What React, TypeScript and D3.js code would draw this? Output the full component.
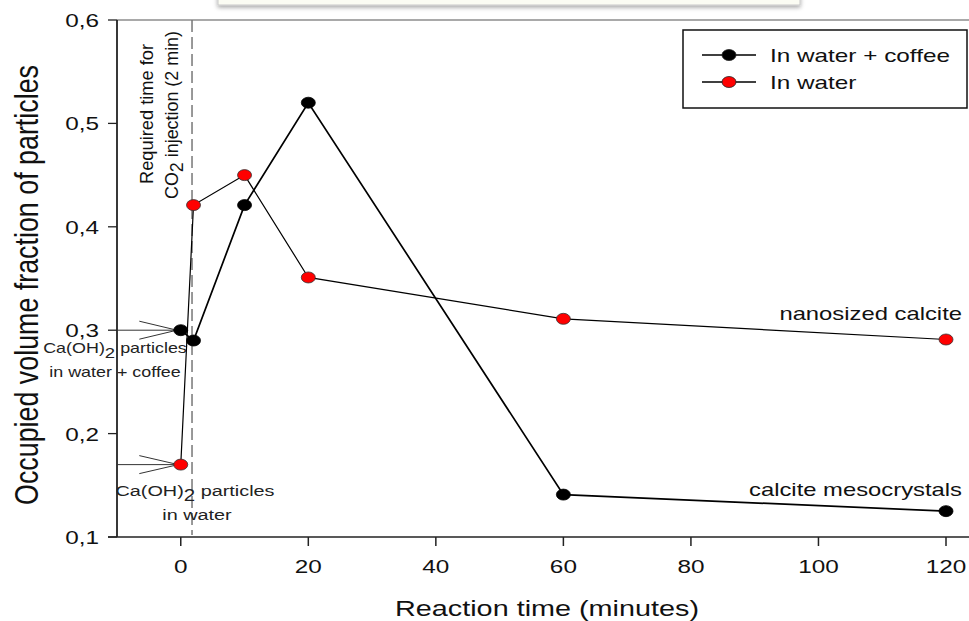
import React from 'react';
import * as d3 from 'd3';

// ---- data ----
const times = [0, 2, 10, 20, 60, 120];
const coffeeValues = [0.300, 0.290, 0.421, 0.520, 0.141, 0.125];
const waterValues = [0.170, 0.421, 0.450, 0.351, 0.311, 0.291];
const seriesNames = ['In water + coffee', 'In water'];
const seriesColors = ['#000000', '#ff0000'];
const xTicks = [0, 20, 40, 60, 80, 100, 120];
const yTicks = [0.1, 0.2, 0.3, 0.4, 0.5, 0.6];
const injectionTime = 2;
const xTitle = 'Reaction time (minutes)';
const yTitle = 'Occupied volume fraction of particles';

const W = 969;
const H = 621;
const SX = 1.28;
const FONT = 'Arial, "Liberation Sans", Helvetica, sans-serif';

function SText(props: any) {
  const { x, y, anchor = 'start', size, fill = '#111', children } = props;
  return (
    <text
      transform={`translate(${x},${y}) scale(${SX},1)`}
      textAnchor={anchor}
      fontSize={size}
      fill={fill}
      fontFamily={FONT}
    >
      {children}
    </text>
  );
}

export default function App() {
  const x = d3.scaleLinear().domain([-10, 120]).range([117, 946]);
  const y = d3.scaleLinear().domain([0.1, 0.6]).range([537, 20]);
  const line = d3
    .line<[number, number]>()
    .x((d) => x(d[0]))
    .y((d) => y(d[1]));

  const series = [coffeeValues, waterValues].map((vals) =>
    times.map((t, i) => [t, vals[i]] as [number, number])
  );

  const x0 = x.range()[0];
  const yBottom = y(0.1);
  const yTop = y(0.6);
  const frameRight = W + 10;

  const fmt = (v: number) => d3.format('.1f')(v).replace('.', ',');

  const arrow = (val: number, tipT: number) => {
    const yy = y(val);
    const tip = x(tipT);
    const back = x(-6.5);
    return (
      <g stroke="#333" strokeWidth={1} fill="none">
        <line x1={x0} x2={tip} y1={yy} y2={yy} />
        <line x1={back} y1={yy - 9} x2={tip} y2={yy} />
        <line x1={back} y1={yy + 9} x2={tip} y2={yy} />
      </g>
    );
  };

  return (
    <div style={{ position: 'fixed', left: 0, top: 0, width: W, height: H, background: '#fff' }}>
      <svg width={W} height={H} style={{ display: 'block' }}>
        <defs>
          <filter id="sh" x="-10%" y="-50%" width="120%" height="300%">
            <feDropShadow dx="0" dy="2" stdDeviation="2" floodColor="#000" floodOpacity="0.35" />
          </filter>
        </defs>
        <rect width={W} height={H} fill="#fff" />
        {/* top cropped box */}
        <rect x={218} y={-20} width={582} height={25} fill="#fbfcf3" stroke="#c8c8c8" strokeWidth={1} filter="url(#sh)" />

        {/* frame */}
        <line x1={x0} x2={frameRight} y1={yTop} y2={yTop} stroke="#555" strokeWidth={1.2} />
        <line x1={x0 - 9} x2={frameRight} y1={yBottom} y2={yBottom} stroke="#222" strokeWidth={1.5} />
        <line x1={x0} x2={x0} y1={yTop} y2={yBottom} stroke="#222" strokeWidth={1.8} />

        {/* y ticks */}
        {yTicks.map((t) => (
          <g key={t}>
            <line x1={x0 - 9} x2={x0} y1={y(t)} y2={y(t)} stroke="#222" strokeWidth={1.3} />
            <SText x={x0 - 18} y={y(t) + 7} anchor="end" size={19}>
              {fmt(t)}
            </SText>
          </g>
        ))}
        {/* x ticks */}
        {xTicks.map((t) => (
          <g key={t}>
            <line x1={x(t)} x2={x(t)} y1={yBottom} y2={yBottom + 9} stroke="#222" strokeWidth={1.5} />
            <SText x={x(t)} y={yBottom + 36} anchor="middle" size={19}>
              {t}
            </SText>
          </g>
        ))}

        {/* axis titles */}
        <SText x={547} y={616} anchor="middle" size={22.5}>
          {xTitle}
        </SText>
        <text
          transform={`translate(38,285) rotate(-90) scale(1,1.15)`}
          textAnchor="middle"
          fontSize={29}
          fontFamily={FONT}
          fill="#111"
          textLength={440}
          lengthAdjust="spacingAndGlyphs"
        >
          {yTitle}
        </text>

        {/* injection line */}
        <line
          x1={x(injectionTime) - 1.5}
          x2={x(injectionTime) - 1.5}
          y1={yTop}
          y2={yBottom - 2}
          stroke="#777"
          strokeWidth={1.5}
          strokeDasharray="12,5"
        />
        <text
          transform={`translate(153,114) rotate(-90)`}
          textAnchor="middle"
          fontSize={18}
          fontFamily={FONT}
          fill="#111"
          textLength={140}
          lengthAdjust="spacingAndGlyphs"
        >
          Required time for
        </text>
        <text
          transform={`translate(178,115) rotate(-90)`}
          textAnchor="middle"
          fontSize={18}
          fontFamily={FONT}
          fill="#111"
          textLength={168}
          lengthAdjust="spacingAndGlyphs"
        >
          CO<tspan fontSize={18} dy={5}>2</tspan>
          <tspan dy={-5}> injection (2 min)</tspan>
        </text>

        {/* arrows */}
        {arrow(coffeeValues[0], -0.6)}
        {arrow(waterValues[0], -0.4)}

        {/* series lines */}
        {series.map((s, i) => (
          <path key={i} d={line(s) || ''} fill="none" stroke="#000" strokeWidth={i === 0 ? 1.7 : 1.2} />
        ))}
        {/* markers */}
        {series.map((s, i) =>
          s.map((d, j) => (
            <ellipse
              key={`${i}-${j}`}
              cx={x(d[0])}
              cy={y(d[1])}
              rx={7}
              ry={5.5}
              fill={seriesColors[i]}
              stroke={i === 0 ? '#000' : '#333'}
              strokeWidth={0.8}
            />
          ))
        )}

        {/* annotations */}
        <SText x={115} y={353} anchor="middle" size={14} fill="#222">
          Ca(OH)<tspan fontSize={14.5} dy={5}>2</tspan><tspan dy={-5}> particles</tspan>
        </SText>
        <SText x={115} y={377} anchor="middle" size={14} fill="#222">
          in water + coffee
        </SText>
        <SText x={195} y={496} anchor="middle" size={15.5} fill="#222">
          Ca(OH)<tspan fontSize={16} dy={5}>2</tspan><tspan dy={-5}> particles</tspan>
        </SText>
        <SText x={197} y={520} anchor="middle" size={15.5} fill="#222">
          in water
        </SText>
        <SText x={962} y={320} anchor="end" size={18.6}>
          nanosized calcite
        </SText>
        <SText x={962} y={496} anchor="end" size={18.6}>
          calcite mesocrystals
        </SText>

        {/* legend */}
        <rect x={683} y={30} width={284} height={78} fill="#fff" stroke="#111" strokeWidth={1.5} />
        {seriesNames.map((n, i) => {
          const ly = 55 + i * 27;
          return (
            <g key={n}>
              <line x1={702} x2={756} y1={ly} y2={ly} stroke="#000" strokeWidth={1.3} />
              <ellipse cx={729} cy={ly} rx={7} ry={5.5} fill={seriesColors[i]} stroke="#222" strokeWidth={0.8} />
              <SText x={770} y={ly + 7} size={19}>
                {n}
              </SText>
            </g>
          );
        })}
      </svg>
    </div>
  );
}
